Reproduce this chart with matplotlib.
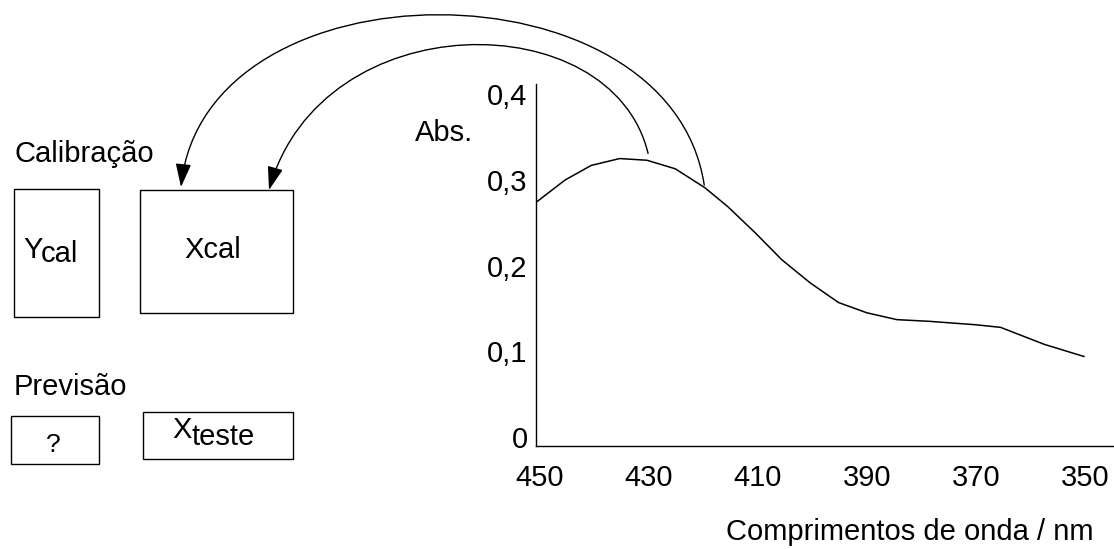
import matplotlib.pyplot as plt
import numpy as np
from matplotlib.patches import Rectangle, FancyArrowPatch
from matplotlib.path import Path

plt.rcParams['font.family'] = ['Liberation Sans', 'DejaVu Sans']

# spectrum
wavelength = [450.4, 445.3, 440.5, 435.3, 430.3, 425.1, 419.7, 415.5, 410.4, 405.6,
              400.4, 395.2, 390.0, 384.5, 378.5, 370.0, 365.5, 357.4, 350.2]
absorb = [0.275, 0.300, 0.317, 0.325, 0.323, 0.313, 0.291, 0.269, 0.238, 0.207,
          0.180, 0.157, 0.145, 0.137, 0.135, 0.131, 0.128, 0.108, 0.094]

x_ticks = [450, 430, 410, 390, 370, 350]
y_ticks = [0, 0.1, 0.2, 0.3, 0.4]
y_labels = ["0", "0,1", "0,2", "0,3", "0,4"]

W, H = 1114, 549
fs = 21

fig = plt.figure(figsize=(W / 100, H / 100), dpi=100)

ax = fig.add_axes([536 / W, (H - 445.5) / H, 577 / W, 361.5 / H])
ax.plot(wavelength, absorb, color='black', lw=1.1)
ax.set_xlim(450.64, 344.87)
ax.set_ylim(-0.0099, 0.412)
ax.set_xticks(x_ticks)
ax.set_xticklabels([str(t) for t in x_ticks])
ax.set_yticks(y_ticks)
ax.set_yticklabels(y_labels)
ax.tick_params(length=0, labelsize=fs)
ax.tick_params(axis='x', pad=13)
ax.tick_params(axis='y', pad=6)
for s in ['top', 'right']:
    ax.spines[s].set_visible(False)
for s in ['left', 'bottom']:
    ax.spines[s].set_linewidth(1.0)
ax.patch.set_alpha(0)

# overlay in pixel coordinates (y down)
ov = fig.add_axes([0, 0, 1, 1])
ov.set_xlim(0, W)
ov.set_ylim(H, 0)
ov.axis('off')
ov.patch.set_alpha(0)

ov.text(444, 133, "Abs.", fontsize=fs, ha='center', va='center')
ov.text(910, 532, "Comprimentos de onda / nm", fontsize=fs, ha='center', va='center')

ov.text(14, 162, "Calibração", fontsize=fs, ha='left', va='baseline')
ov.text(14, 395, "Previsão", fontsize=fs, ha='left', va='baseline')

boxes = [(14, 189, 85, 128), (140, 190, 153, 123), (11, 416, 88, 48), (143, 412, 150, 47)]
for bx, by, bw, bh in boxes:
    ov.add_patch(Rectangle((bx, by), bw, bh, fill=False, ec='black', lw=1.0))

ov.text(23, 258, "Y", fontsize=fs, ha='left', va='baseline')
ov.text(41, 262, "cal", fontsize=fs, ha='left', va='baseline')
ov.text(213, 258, "Xcal", fontsize=fs, ha='center', va='baseline')
ov.text(53, 452, "?", fontsize=fs - 2, ha='center', va='baseline')
ov.text(172, 438, "X", fontsize=fs, ha='left', va='baseline')
ov.text(191, 445, "teste", fontsize=fs, ha='left', va='baseline')


def to_ov(x, y):
    d = ax.transData.transform((x, y))
    return ov.transData.inverted().transform(d)


s_out = to_ov(419.8, 0.294)
s_in = to_ov(430.1, 0.331)

arcs = [
    (s_out, (670, -42), (205, -42), (181, 187)),
    (s_in, (612, 3), (322, 3), (269, 190)),
]
for p0, c1, c2, p3 in arcs:
    path = Path([p0, c1, c2, p3], [Path.MOVETO, Path.CURVE4, Path.CURVE4, Path.CURVE4])
    arr = FancyArrowPatch(path=path, arrowstyle='-|>,head_length=0.9,head_width=0.3',
                          mutation_scale=16, color='black', lw=1.0)
    ov.add_patch(arr)

fig.savefig('out.png', dpi=100)
